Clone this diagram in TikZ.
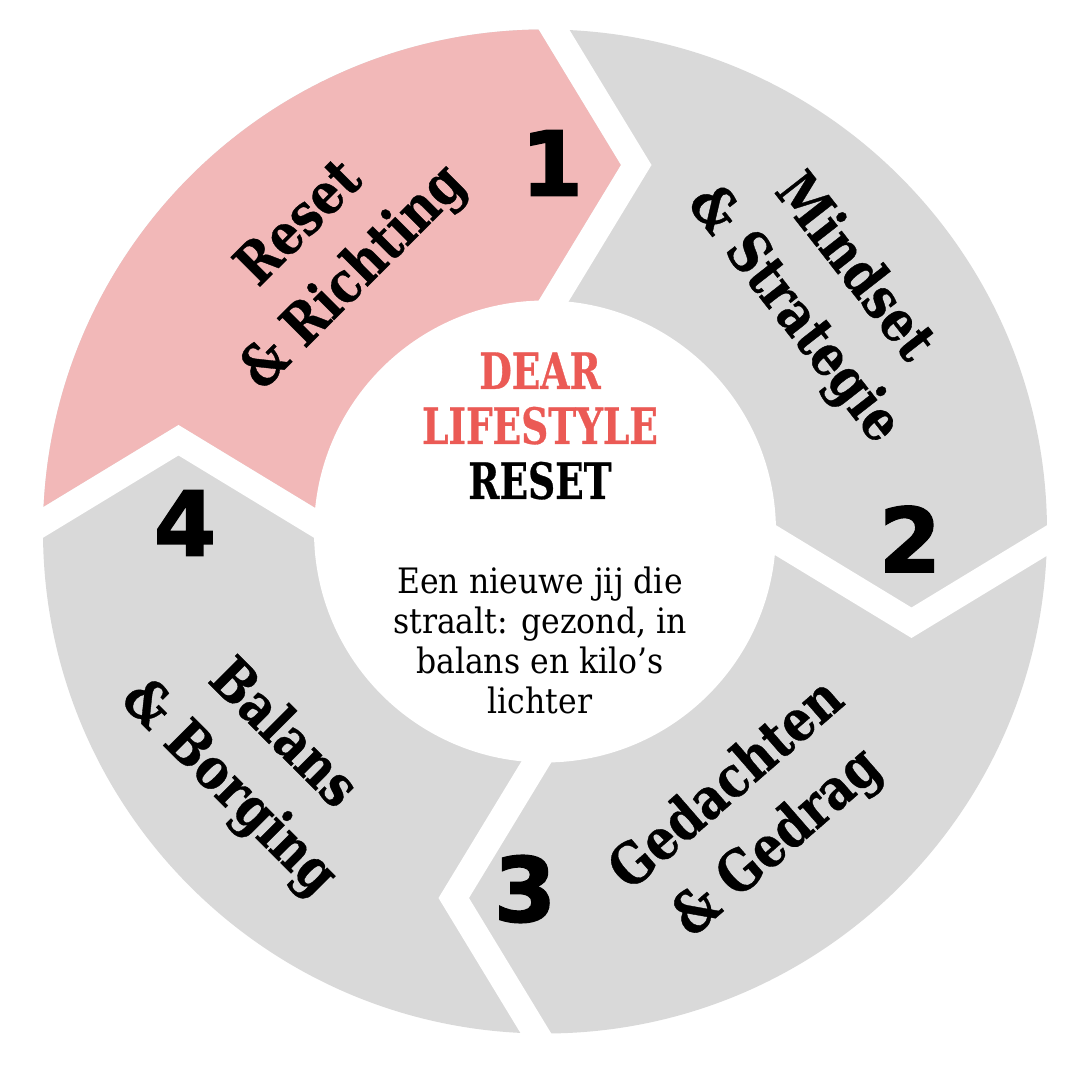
\documentclass[tikz,border=0pt]{standalone}
\usepackage{fontspec}
\newfontfamily\labfont[FakeStretch=0.84,FakeBold=0.6]{DejaVu Serif}
\newfontfamily\titlefont[FakeStretch=0.75,FakeBold=0.6]{DejaVu Serif}
\newfontfamily\bodyfont[FakeStretch=0.9]{DejaVu Serif}
\newfontfamily\numfont[FakeBold=2]{DejaVu Sans}
\definecolor{ringgray}{HTML}{D9D9D9}
\definecolor{segpink}{HTML}{F2B8B8}
\definecolor{titlered}{HTML}{EB5A55}
\tikzset{
  seglabel/.style={font=\labfont\bfseries\fontsize{57}{76}\selectfont, align=center, text=black, inner sep=0pt},
  stepnum/.style={font=\numfont\bfseries\fontsize{89}{89}\selectfont, text=black, inner sep=0pt},
  titletext/.style={font=\titlefont\bfseries\fontsize{50}{55}\selectfont, align=center, inner sep=0pt},
  bodytext/.style={font=\bodyfont\fontsize{35}{40}\selectfont, align=center, inner sep=0pt},
  gapband/.style={fill=white}
}
\begin{document}
\begin{tikzpicture}[x=1pt,y=1pt]
\useasboundingbox (0,0) rectangle (1080,1080);
\fill[white] (0,0) rectangle (1080,1080);
\begin{scope}[shift={(545,548.5)}]
  % ring
  \fill[ringgray] (0,0) circle (502);
  % pink segment
  \begin{scope}
    \clip (0,0) circle (502);
    \fill[segpink] (0,0) -- (-213,13.3) -- (-366.5,106.5) -- (-520,13.3) -- (-560,13.3)
      -- (-560,560) -- (-17.2,560) -- (-17.2,520) -- (76,366.5) -- (-17.2,213) -- cycle;
  \end{scope}
  % white chevron gaps
  \foreach \k in {0,1,2,3}{
    \fill[gapband, rotate=-90*\k] (-17.2,520) -- (76,366.5) -- (-17.2,213)
      -- (13.3,213) -- (106.5,366.5) -- (13.3,520) -- cycle;
  }
  % inner disc
  \fill[white] (0,0) circle (231);
\end{scope}
% step labels
\node[seglabel, rotate=45]  (lab1) at (328,828) {Reset\\\& Richting};
\node[seglabel, rotate=-52] (lab2) at (823,788) {Mindset\\\& Strategie};
\node[seglabel, rotate=41]  (lab3) at (753,265) {Gedachten\\\& Gedrag};
\node[seglabel, rotate=-45] (lab4) at (255,318) {Balans\\\& Borging};
% numbers
\node[stepnum] (n1) at (552,917) {1};
\node[stepnum] (n2) at (910,541) {2};
\node[stepnum] (n3) at (525,191) {3};
\node[stepnum] (n4) at (185,557) {4};
% centre
\node[titletext] (title) at (540,654) {\textcolor{titlered}{DEAR}\\\textcolor{titlered}{LIFESTYLE}\\RESET};
\node[bodytext] (body) at (540,440) {Een nieuwe jij die\\straalt: gezond, in\\balans en kilo’s\\lichter};
\end{tikzpicture}
\end{document}
